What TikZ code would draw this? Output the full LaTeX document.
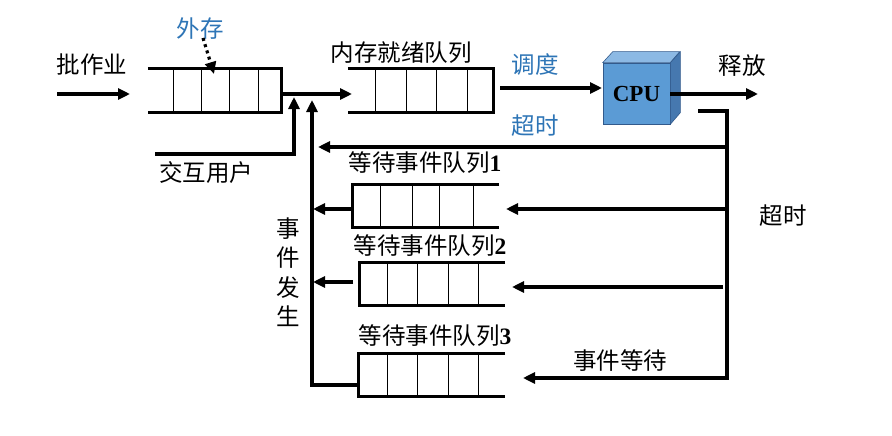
\documentclass[tikz,border=0pt]{standalone}
\usepackage{fontspec}
\setmainfont{Liberation Serif}
\newfontfamily\cjk{Noto Sans CJK SC}
\usetikzlibrary{arrows.meta}
\definecolor{txtblue}{RGB}{46,117,182}
\definecolor{cpufront}{RGB}{91,155,213}
\definecolor{cputop}{RGB}{140,185,228}
\definecolor{cpuside}{RGB}{70,120,175}
\definecolor{cpuedge}{RGB}{50,90,140}
\tikzset{
  thickline/.style={line width=3.2pt, line cap=butt, line join=miter},
  thinline/.style={line width=1pt},
  arr/.style={thickline, -{Triangle[length=12pt,width=11pt]}},
  lbl/.style={inner sep=0pt, font=\cjk\fontsize{23.5}{26}\selectfont},
  bluelbl/.style={lbl, text=txtblue},
  qbox/.style={draw=none, inner sep=0pt, minimum width=#1, minimum height=43pt},
}
\begin{document}
\begin{tikzpicture}[x=1pt,y=-1pt]
\useasboundingbox (0,0) rectangle (892,436);
% queues
\node[qbox=133pt] (q1) at (214.5,90.5) {};
\node[qbox=145pt] (q2) at (420.5,90.5) {};
\node[qbox=146pt] (w1) at (426,206) {};
\node[qbox=145pt] (w2) at (432.5,284) {};
\node[qbox=146pt] (w3) at (432,375) {};
\draw[thickline] (q1.north west) -- (q1.north east) -- (q1.south east) -- (q1.south west);
\foreach \x in {173,201,229,258} \draw[thinline] (\x,69) -- (\x,112);
\draw[thickline] (q2.north west) -- (q2.north east) -- (q2.south east) -- (q2.south west);
\foreach \x in {375,406,436,467} \draw[thinline] (\x,69) -- (\x,112);
\draw[thickline] (w1.north east) -- (w1.north west) -- (w1.south west) -- (w1.south east);
\foreach \x in {380,412,439,473} \draw[thinline] (\x,184) -- (\x,228);
\draw[thickline] (w2.north east) -- (w2.north west) -- (w2.south west) -- (w2.south east);
\foreach \x in {387,417,448,478} \draw[thinline] (\x,263) -- (\x,305);
\draw[thickline] (w3.north east) -- (w3.north west) -- (w3.south west) -- (w3.south east);
\foreach \x in {387,417,448,478} \draw[thinline] (\x,354) -- (\x,396);
% CPU
\node[inner sep=0pt, minimum width=67pt, minimum height=61pt, fill=cpufront, draw=cpuedge, line width=0.6pt] (cpu) at (636.5,93.5) {};
\fill[cputop, draw=cpuedge, line width=0.6pt] (cpu.north west) -- ++(10,-11) -- ++(67,0) -- (cpu.north east) -- cycle;
\fill[cpuside, draw=cpuedge, line width=0.6pt] (cpu.north east) -- ++(10,-11) -- ++(0,61) -- (cpu.south east) -- cycle;
\node[inner sep=0pt, font=\bfseries\fontsize{23}{25}\selectfont] (cputxt) at (cpu.center) {CPU};
% labels
\node[lbl] (pzy) at (92,65) {批作业};
\node[bluelbl] (wc) at (200,29) {外存};
\node[lbl] (jhyh) at (206,173) {交互用户};
\node[lbl] (ncjx) at (401,53) {内存就绪队列};
\node[bluelbl] (dd) at (535,65) {调度};
\node[bluelbl] (cs1) at (535,126) {超时};
\node[lbl] (sf) at (742,66) {释放};
\node[lbl] (dl1) at (425,163) {等待事件队列\textrm{\bfseries 1}};
\node[lbl] (dl2) at (430,246) {等待事件队列\textrm{\bfseries 2}};
\node[lbl] (dl3) at (435,336) {等待事件队列\textrm{\bfseries 3}};
\node[lbl] (cs2) at (783,216) {超时};
\node[lbl] (sjdd) at (620,361) {事件等待};
\node[lbl, align=center, font=\cjk\fontsize{23.5}{29.5}\selectfont] (sjfs) at (288,272) {事\\件\\发\\生};
% coordinates
\coordinate (bs) at (57,94);
\coordinate (be) at (130,94);
\coordinate (q2in) at (352,94);
\coordinate (jh0) at (155,154);
\coordinate (jh1) at (294,154);
\coordinate (jh2) at (294,97);
\coordinate (ev0) at (312,385);
\coordinate (ev1) at (312,100);
\coordinate (dd0) at (500,88);
\coordinate (dd1) at (602,88);
\coordinate (sf1) at (758,94);
\coordinate (fb0) at (698,111);
\coordinate (fb1) at (727,111);
\coordinate (fb2) at (727,378);
\coordinate (fb3) at (523,378);
\coordinate (t1) at (318,147);
\coordinate (t1s) at (727,147);
\coordinate (e1s) at (727,209);
\coordinate (e1) at (506,209);
\coordinate (e2s) at (723,287);
\coordinate (e2) at (512,287);
\coordinate (o1) at (313,209);
\coordinate (o2s) at (353,282);
\coordinate (o2) at (313,282);
\coordinate (wc0) at (203,38);
\coordinate (wc1) at (214,74);
% connectors
\draw[arr] (bs) -- (be);
\draw[arr] (q1.east |- q2in) -- (q2in);
\draw[thickline, dash pattern=on 3pt off 3.5pt, -{Triangle[length=12pt,width=11pt]}] (wc0) -- (wc1);
\draw[arr] (jh0) -- (jh1) -- (jh2);
\draw[arr] (w3.west |- ev0) -- (ev0) -- (ev1);
\draw[arr] (dd0) -- (dd1);
\draw[arr] (cpu.east |- sf1) -- (sf1);
\draw[arr] (fb0) -- (fb1) -- (fb2) -- (fb3);
\draw[arr] (t1s) -- (t1);
\draw[arr] (e1s) -- (e1);
\draw[arr] (e2s) -- (e2);
\draw[arr] (w1.west |- o1) -- (o1);
\draw[arr] (o2s) -- (o2);
\end{tikzpicture}
\end{document}
